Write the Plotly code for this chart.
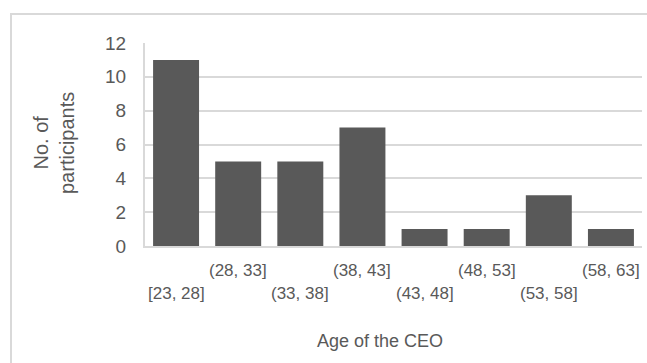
import plotly.graph_objects as go

# Age bands of the CEO and number of participants in each
categories = ["[23, 28]", "(28, 33]", "(33, 38]", "(38, 43]",
              "(43, 48]", "(48, 53]", "(53, 58]", "(58, 63]"]
counts = [11, 5, 5, 7, 1, 1, 3, 1]
y_ticks = [0, 2, 4, 6, 8, 10, 12]

x_title = "Age of the CEO"
y_title = "No. of<br>participants"

BAR = "#595959"
TEXT = "#595959"
GRID = "#d9d9d9"
FONT = "Liberation Sans, Arial, sans-serif"

W, H = 647, 363
ML, MR, MT, MB = 145, 5, 43, 117
PW, PH = W - ML - MR, H - MT - MB


def px_to_paper_x(px):
    return (px - ML) / PW


def px_to_paper_y(py):
    return (H - MB - py) / PH


fig = go.Figure(
    go.Bar(
        x=categories,
        y=counts,
        marker=dict(color=BAR, line=dict(width=0)),
    )
)

annotations = []
# staggered category labels: first, third, ... sit lower
for i, cat in enumerate(categories):
    annotations.append(dict(
        x=cat, xref="x", y=0, yref="paper",
        text=cat, showarrow=False,
        xanchor="center", yanchor="middle",
        yshift=-47 if i % 2 == 0 else -24,
        font=dict(family=FONT, size=17, color=TEXT),
    ))

annotations.append(dict(
    x=px_to_paper_x(380), xref="paper", y=px_to_paper_y(341), yref="paper",
    text=x_title, showarrow=False, xanchor="center", yanchor="middle",
    font=dict(family=FONT, size=18, color=TEXT),
))
annotations.append(dict(
    x=px_to_paper_x(54), xref="paper", y=px_to_paper_y(143), yref="paper",
    text=y_title, showarrow=False, xanchor="center", yanchor="middle",
    textangle=-90,
    font=dict(family=FONT, size=20, color=TEXT),
))

# chart-area border
shapes = [dict(
    type="rect", xref="paper", yref="paper",
    x0=px_to_paper_x(11), x1=px_to_paper_x(700),
    y0=px_to_paper_y(400), y1=px_to_paper_y(14),
    line=dict(color=GRID, width=2), fillcolor="rgba(0,0,0,0)",
    layer="below",
)]

fig.update_layout(
    width=W, height=H,
    margin=dict(l=ML, r=MR, t=MT, b=MB, autoexpand=False),
    paper_bgcolor="white", plot_bgcolor="white",
    bargap=0.26,
    showlegend=False,
    annotations=annotations,
    shapes=shapes,
    font=dict(family=FONT, color=TEXT),
)

fig.update_xaxes(
    type="category",
    showticklabels=False,
    showgrid=False,
    showline=True, linecolor=GRID, linewidth=2,
    ticks="",
)
fig.update_yaxes(
    range=[0, 12],
    tickvals=y_ticks,
    showgrid=True, gridcolor=GRID, gridwidth=2,
    showline=True, linecolor=GRID, linewidth=2,
    zeroline=False,
    ticks="outside", ticklen=13, tickcolor="rgba(0,0,0,0)",
    tickfont=dict(family=FONT, size=19, color=TEXT),
)

fig.write_html("out.html")
